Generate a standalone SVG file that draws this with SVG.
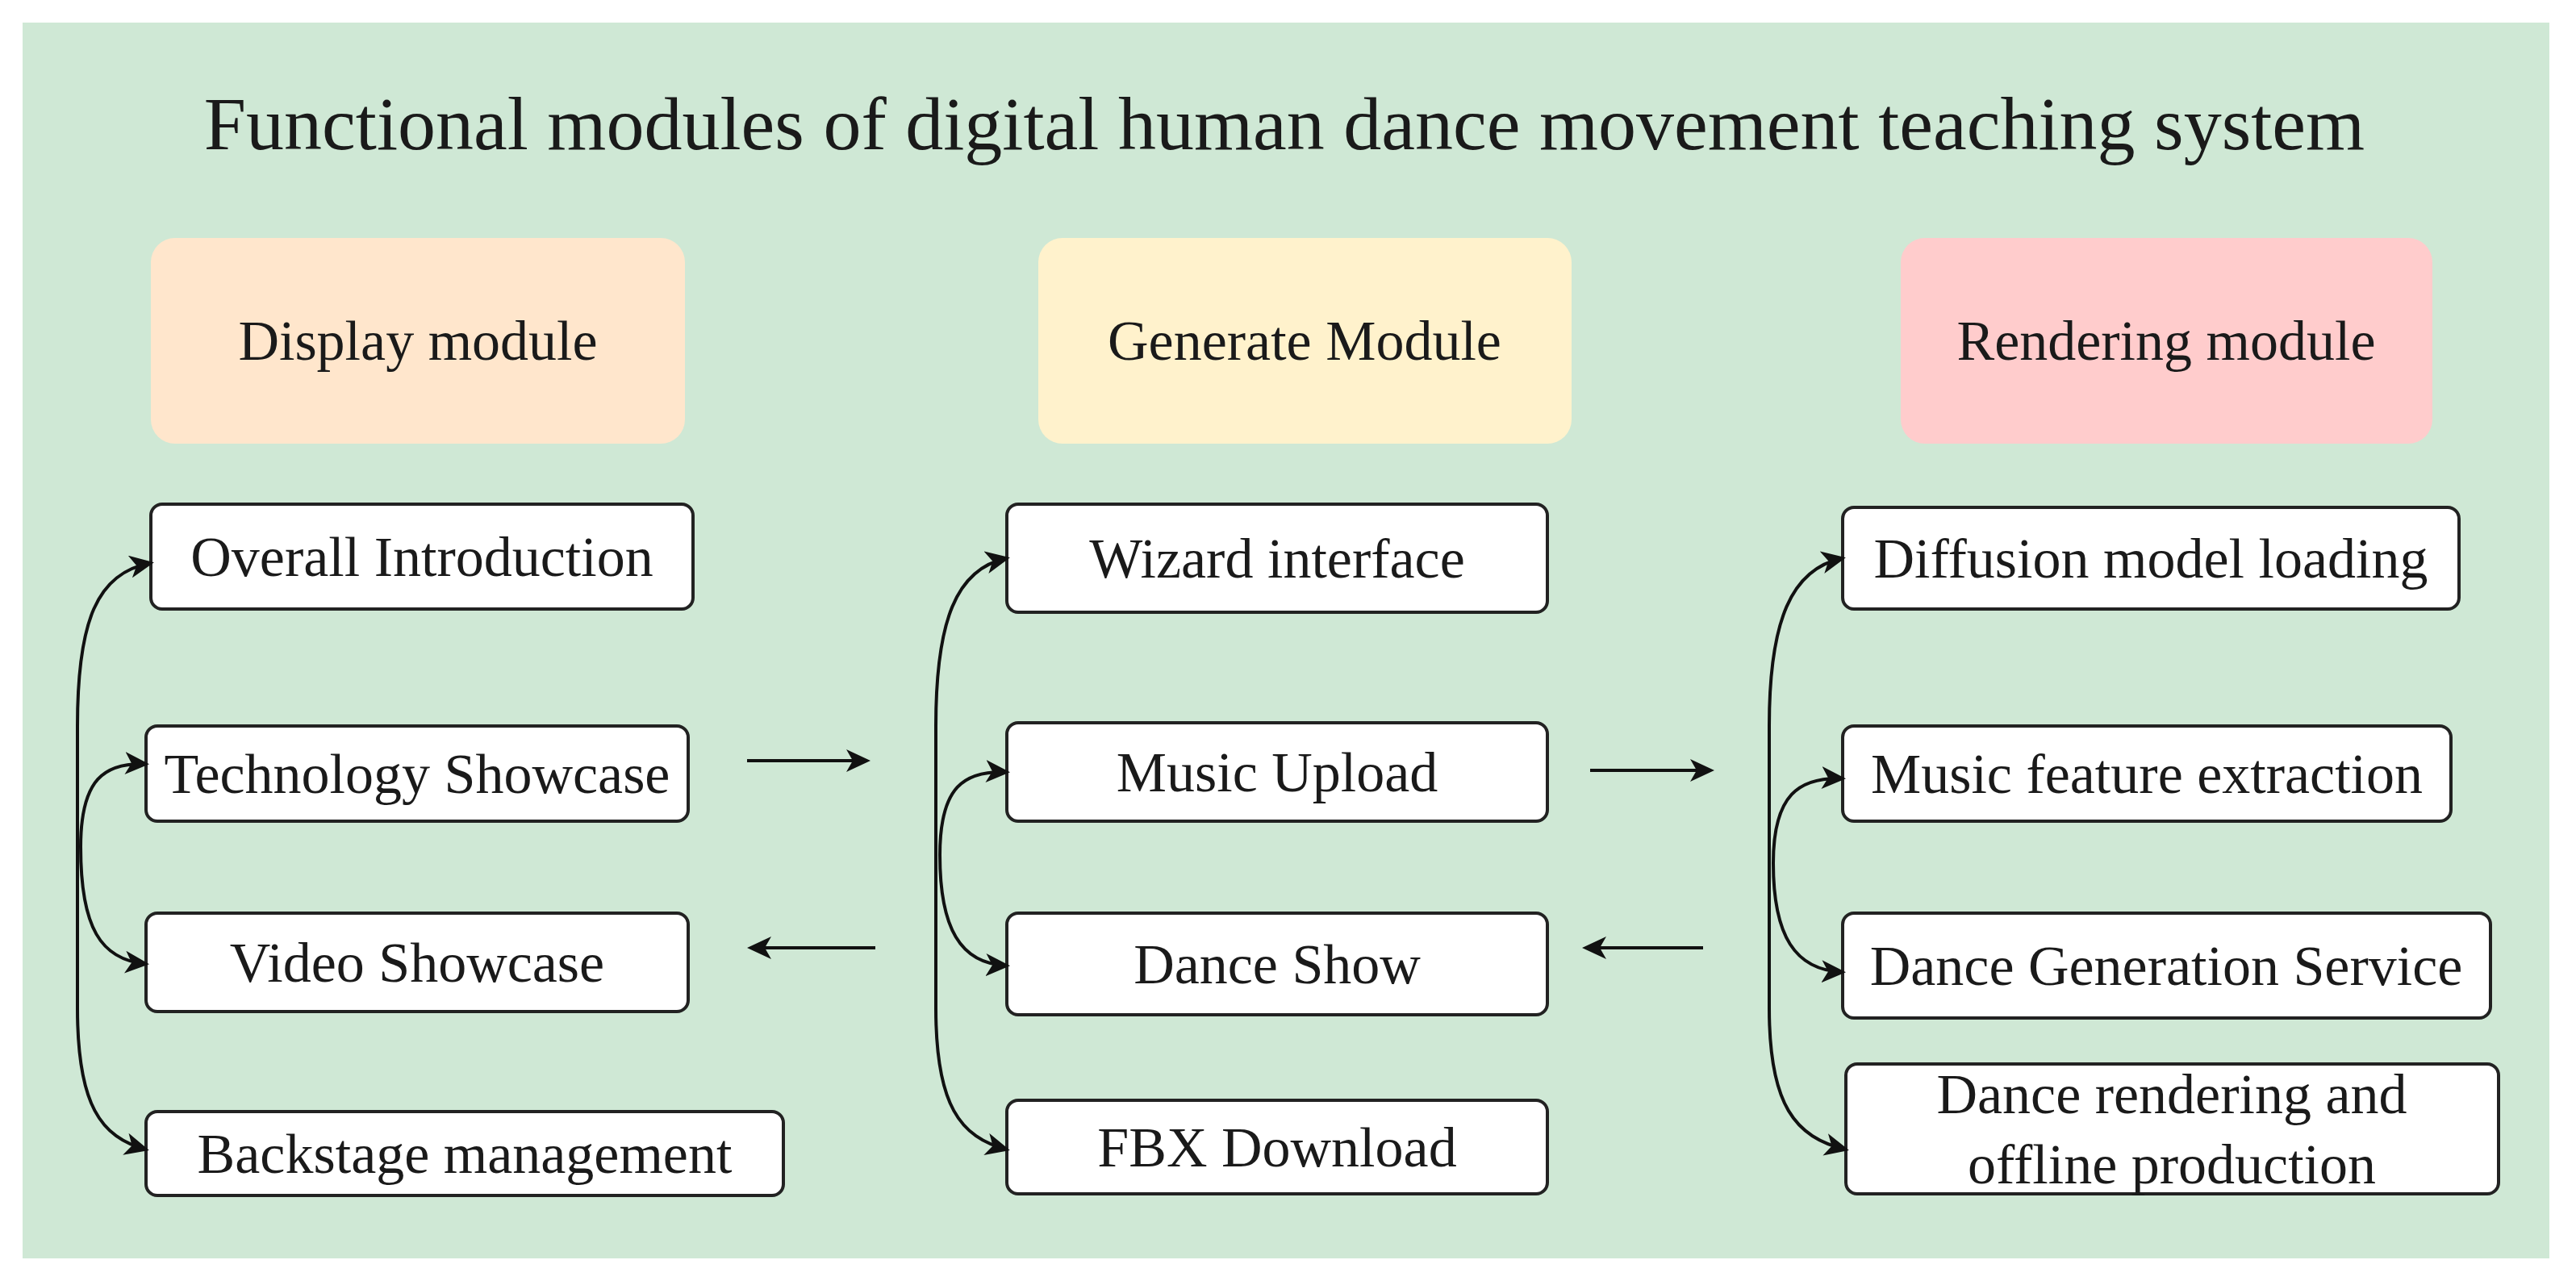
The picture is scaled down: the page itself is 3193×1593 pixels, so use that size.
<svg xmlns="http://www.w3.org/2000/svg" width="3193" height="1593" viewBox="0 0 3193 1593">
<style>
.t{font-family:"Liberation Serif","Times New Roman",serif;fill:#1a1a1a;text-anchor:middle;dominant-baseline:central}
.n{fill:#fff;stroke:#222;stroke-width:4}
.c{fill:none;stroke:#111;stroke-width:4;marker-end:url(#a)}
.b{marker-start:url(#s)}
</style>
<defs>
<marker id="a" markerWidth="30" markerHeight="28" refX="26" refY="14" orient="auto" markerUnits="userSpaceOnUse" viewBox="0 0 30 28"><path d="M0,0 L30,14 L0,28 L8,14 Z" fill="#111"/></marker>
<marker id="s" markerWidth="30" markerHeight="28" refX="4" refY="14" orient="auto" markerUnits="userSpaceOnUse" viewBox="0 0 30 28"><path d="M30,0 L0,14 L30,28 L22,14 Z" fill="#111"/></marker>
</defs>
<rect width="3193" height="1593" fill="#fff"/>
<rect x="28" y="28" width="3132" height="1532" fill="#cfe8d5"/>
<text class="t" x="1592" y="153" font-size="94">Functional modules of digital human dance movement teaching system</text>
<g id="display"><rect x="187" y="295" width="662" height="255" rx="30" fill="#ffe6cc"/><text class="t" x="518" y="422" font-size="70">Display module</text></g>
<g id="generate"><rect x="1287" y="295" width="661" height="255" rx="30" fill="#fff2cc"/><text class="t" x="1617" y="422" font-size="70">Generate Module</text></g>
<g id="rendering"><rect x="2356" y="295" width="659" height="255" rx="30" fill="#ffcccc"/><text class="t" x="2685" y="422" font-size="70">Rendering module</text></g>
<g id="n1"><rect class="n" x="187" y="625" width="672" height="130" rx="14"/><text class="t" x="523" y="690" font-size="70">Overall Introduction</text></g>
<g id="n2"><rect class="n" x="181" y="900" width="672" height="118" rx="14"/><text class="t" x="517" y="959" font-size="70">Technology Showcase</text></g>
<g id="n3"><rect class="n" x="181" y="1132" width="672" height="122" rx="14"/><text class="t" x="517" y="1193" font-size="70">Video Showcase</text></g>
<g id="n4"><rect class="n" x="181" y="1378" width="790" height="104" rx="14"/><text class="t" x="576" y="1430" font-size="70">Backstage management</text></g>
<g id="m1"><rect class="n" x="1248" y="625" width="670" height="134" rx="14"/><text class="t" x="1583" y="692" font-size="70">Wizard interface</text></g>
<g id="m2"><rect class="n" x="1248" y="896" width="670" height="122" rx="14"/><text class="t" x="1583" y="957" font-size="70">Music Upload</text></g>
<g id="m3"><rect class="n" x="1248" y="1132" width="670" height="126" rx="14"/><text class="t" x="1583" y="1195" font-size="70">Dance Show</text></g>
<g id="m4"><rect class="n" x="1248" y="1364" width="670" height="116" rx="14"/><text class="t" x="1583" y="1422" font-size="70">FBX Download</text></g>
<g id="r1"><rect class="n" x="2284" y="629" width="764" height="126" rx="14"/><text class="t" x="2666" y="692" font-size="70">Diffusion model loading</text></g>
<g id="r2"><rect class="n" x="2284" y="900" width="754" height="118" rx="14"/><text class="t" x="2661" y="959" font-size="70">Music feature extraction</text></g>
<g id="r3"><rect class="n" x="2284" y="1132" width="803" height="130" rx="14"/><text class="t" x="2685" y="1197" font-size="70">Dance Generation Service</text></g>
<g id="r4"><rect class="n" x="2288" y="1319" width="809" height="161" rx="14"/><text class="t" x="2692" y="1356" font-size="70">Dance rendering and</text><text class="t" x="2692" y="1443" font-size="70">offline production</text></g>
<g id="connectors">
<path class="c" d="M926,943 L1075,943"/>
<path class="c" d="M1085,1175 L930,1175"/>
<path class="c" d="M1971,955 L2121,955"/>
<path class="c" d="M2111,1175 L1965,1175"/>
<path class="c b" d="M187,698 C120,710 96,770 96,900 L96,1250 C96,1370 125,1410 181,1425"/>
<path class="c b" d="M181,947 C130,945 100,965 100,1050 C100,1150 125,1190 181,1195"/>
<path class="c b" d="M1248,692 C1185,705 1160,770 1160,900 L1160,1250 C1160,1370 1190,1410 1248,1425"/>
<path class="c b" d="M1248,957 C1195,955 1165,975 1165,1060 C1165,1150 1190,1195 1248,1197"/>
<path class="c b" d="M2284,692 C2220,705 2193,770 2193,900 L2193,1250 C2193,1370 2225,1410 2288,1425"/>
<path class="c b" d="M2284,965 C2230,963 2198,985 2198,1070 C2198,1160 2225,1203 2284,1205"/>
</g>
</svg>
